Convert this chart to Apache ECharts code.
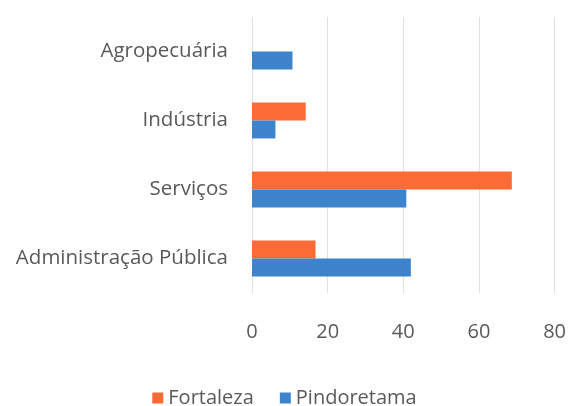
<!DOCTYPE html>
<html>
<head>
<meta charset="utf-8">
<script src="https://cdn.jsdelivr.net/npm/echarts@6/dist/echarts.min.js"></script>
<style>
	html, body { margin: 0; padding: 0; background: #fff; }
	#main { width: 569px; height: 406px; }
</style>
</head>
<body>
<div id="main"></div>
<script type="text/javascript">
	// dados
	var setores = ['Agropecuária', 'Indústria', 'Serviços', 'Administração Pública'];
	var fortaleza = [0, 14.2, 68.7, 16.8];
	var pindoretama = [10.7, 6.2, 40.8, 42];
	var ticks = [0, 80, 20];

	var fonte = '"Open Sans", "Noto Sans", sans-serif';
	var chart = echarts.init(document.getElementById('main'));
	var option = {
		animation: false,
		backgroundColor: '#ffffff',
		color: ['#FC6B36', '#3D84CD'],
		legend: {
			bottom: -7,
			left: 'center',
			itemWidth: 11,
			itemHeight: 11,
			itemGap: 26,
			icon: 'rect',
			textStyle: { fontSize: 20, color: '#595959', fontFamily: fonte },
			data: ['Fortaleza', 'Pindoretama']
		},
		grid: {
			left: 252,
			right: 8,
			top: 17,
			bottom: 113,
			containLabel: false
		},
		xAxis: {
			type: 'value',
			min: ticks[0],
			max: ticks[1],
			interval: ticks[2],
			axisLine: { show: false },
			axisTick: { show: false },
			splitLine: { lineStyle: { color: '#e0e0e0' } },
			axisLabel: { margin: 29, fontSize: 20, color: '#595959', fontFamily: fonte }
		},
		yAxis: {
			type: 'category',
			inverse: true,
			data: setores,
			axisLine: { show: false },
			axisTick: { show: false },
			axisLabel: { margin: 24, fontSize: 20.5, color: '#595959', fontFamily: fonte }
		},
		series: [{
			name: 'Fortaleza',
			type: 'bar',
			data: fortaleza,
			barGap: '0%',
			barCategoryGap: '48%'
		}, {
			name: 'Pindoretama',
			type: 'bar',
			data: pindoretama,
			barGap: '0%',
			barCategoryGap: '48%'
		}]
	};
	chart.setOption(option);
</script>
</body>
</html>
